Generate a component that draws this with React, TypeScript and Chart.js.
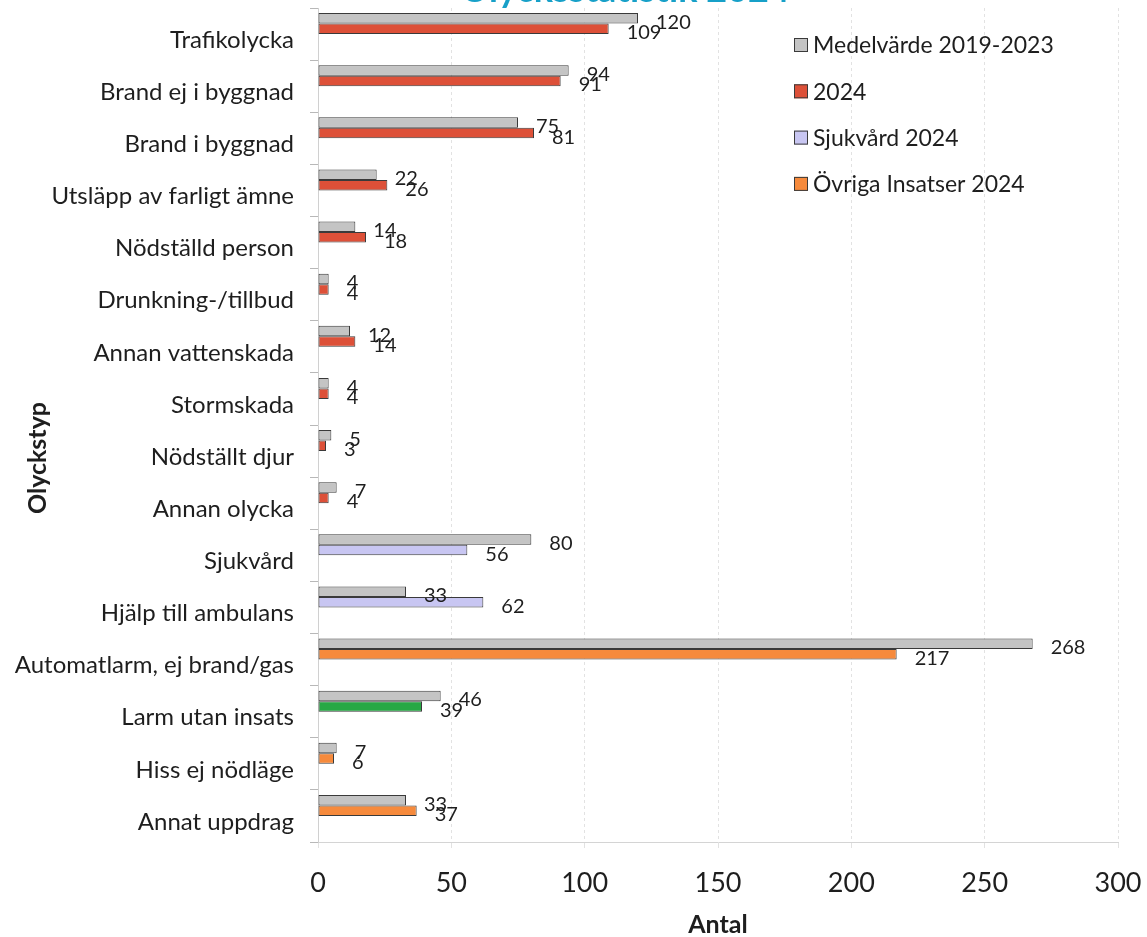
import React, { useEffect, useRef } from "react";
import { Chart, registerables } from "chart.js";

Chart.register(...registerables);

const titleText = "Olycksstatistik 2024";
const xTitle = "Antal";
const yTitle = "Olyckstyp";

const categories = [
  "Trafikolycka",
  "Brand ej i byggnad",
  "Brand i byggnad",
  "Utsläpp av farligt ämne",
  "Nödställd person",
  "Drunkning-/tillbud",
  "Annan vattenskada",
  "Stormskada",
  "Nödställt djur",
  "Annan olycka",
  "Sjukvård",
  "Hjälp till ambulans",
  "Automatlarm, ej brand/gas",
  "Larm utan insats",
  "Hiss ej nödläge",
  "Annat uppdrag",
];

const seriesNames = ["Medelvärde 2019-2023", "2024", "Sjukvård 2024", "Övriga Insatser 2024"];

const medel = [120, 94, 75, 22, 14, 4, 12, 4, 5, 7, 80, 33, 268, 46, 7, 33];
const r2024 = [109, 91, 81, 26, 18, 4, 14, 4, 3, 4, null, null, null, null, null, null];
const sjukvard = [null, null, null, null, null, null, null, null, null, null, 56, 62, null, null, null, null];
const ovriga = [null, null, null, null, null, null, null, null, null, null, null, null, 217, 39, 6, 37];
const greenIndex = 13; // "Larm utan insats" drawn green

const xTicks = [0, 50, 100, 150, 200, 250, 300];

const C_GREY = "#c4c4c4";
const C_RED = "#dd5038";
const C_LAV = "#c8c6f2";
const C_ORANGE = "#f68a3c";
const C_GREEN = "#27a845";
const seriesColors = [C_GREY, C_RED, C_LAV, C_ORANGE];

const FONT = "Lato, 'Open Sans', sans-serif";

export default function App() {
  const ref = useRef<HTMLCanvasElement | null>(null);

  useEffect(() => {
    if (!ref.current) return;
    Chart.defaults.font.family = FONT;

    const extras = {
      id: "extras",
      afterDraw(chart: any) {
        const ctx = chart.ctx;
        ctx.save();
        // data labels
        ctx.font = `20px ${FONT}`;
        ctx.fillStyle = "#1e1e1e";
        ctx.textAlign = "left";
        ctx.textBaseline = "middle";
        chart.data.datasets.forEach((ds: any, di: number) => {
          if (!ds.showLabels) return;
          const meta = chart.getDatasetMeta(di);
          ds.data.forEach((v: any, i: number) => {
            if (v === null || v === undefined) return;
            const el: any = meta.data[i];
            ctx.fillText(String(v), el.x + 18, el.y + 4);
          });
        });
        // clipped title
        ctx.font = `bold 36px ${FONT}`;
        ctx.fillStyle = "#17a0c8";
        ctx.textAlign = "center";
        ctx.textBaseline = "alphabetic";
        ctx.fillText(titleText, 625, 2);
        // y axis title
        ctx.save();
        ctx.translate(38, 458);
        ctx.rotate(-Math.PI / 2);
        ctx.font = `bold 25px ${FONT}`;
        ctx.fillStyle = "#1e1e1e";
        ctx.textAlign = "center";
        ctx.textBaseline = "middle";
        ctx.fillText(yTitle, 0, 0);
        ctx.restore();
        // legend
        ctx.font = `23px ${FONT}`;
        ctx.textAlign = "left";
        ctx.textBaseline = "middle";
        seriesNames.forEach((name, i) => {
          const cy = 45 + i * 46.3;
          ctx.fillStyle = seriesColors[i];
          ctx.fillRect(794, cy - 7, 14, 14);
          ctx.strokeStyle = "#3a3a3a";
          ctx.lineWidth = 1;
          ctx.strokeRect(794.5, cy - 6.5, 13, 13);
          ctx.fillStyle = "#1e1e1e";
          ctx.fillText(name, 813, cy + 1);
        });
        ctx.restore();
      },
    };

    const chart = new Chart(ref.current, {
      type: "bar",
      data: {
        labels: categories,
        datasets: [
          { label: seriesNames[0], data: medel, stack: "a", backgroundColor: C_GREY, showLabels: true } as any,
          { label: seriesNames[1], data: r2024, stack: "b", backgroundColor: C_RED, showLabels: true } as any,
          { label: seriesNames[2], data: sjukvard, stack: "b", backgroundColor: C_LAV, showLabels: true } as any,
          {
            label: seriesNames[3],
            data: ovriga,
            stack: "b",
            backgroundColor: (c: any) => (c.dataIndex === greenIndex ? C_GREEN : C_ORANGE),
            showLabels: true,
          } as any,
          { label: "", data: categories.map(() => null), stack: "c" } as any,
          { label: "", data: categories.map(() => null), stack: "d" } as any,
        ],
      },
      options: {
        indexAxis: "y",
        responsive: false,
        animation: false,
        layout: { padding: { left: 0, top: 8, right: 29, bottom: 0 } },
        datasets: {
          bar: {
            categoryPercentage: 0.806,
            barPercentage: 1,
            borderWidth: 1,
            borderColor: "#3a3a3a",
            borderSkipped: false,
          },
        },
        plugins: {
          legend: { display: false },
          tooltip: { enabled: false },
          title: { display: false },
        },
        scales: {
          x: {
            type: "linear",
            min: xTicks[0],
            max: xTicks[xTicks.length - 1],
            stacked: false,
            afterFit: (s: any) => {
              s.height = 95;
              s.paddingLeft = 0;
              s.paddingRight = 0;
            },
            afterBuildTicks: (s: any) => {
              s.ticks = xTicks.map((v) => ({ value: v }));
            },
            ticks: {
              font: { size: 27 },
              color: "#1e1e1e",
              padding: 19,
            },
            grid: {
              color: "#e2e2e2",
              tickLength: 6,
              tickColor: "#e2e2e2",
            },
            border: { display: true, color: "#d4d4d4", dash: [3, 3] },
            title: {
              display: true,
              text: xTitle,
              font: { size: 25, weight: "bold", lineHeight: 1 },
              color: "#1e1e1e",
              padding: { top: 0, bottom: 0 },
            },
          },
          y: {
            type: "category",
            afterFit: (s: any) => {
              s.width = 318;
              s.paddingTop = 0;
              s.paddingBottom = 0;
            },
            ticks: {
              font: { size: 24 },
              color: "#1e1e1e",
              padding: 16,
              labelOffset: 6,
              autoSkip: false,
            },
            grid: {
              drawOnChartArea: false,
              tickLength: 8,
              color: "#b8b8b8",
            },
            border: { display: true, color: "#d0d0d0" },
          },
        },
      },
      plugins: [extras],
    } as any);

    return () => chart.destroy();
  }, []);

  return (
    <div style={{ position: "absolute", left: 0, top: 0, width: 1147, height: 937, background: "#fff" }}>
      <canvas ref={ref} width={1147} height={937} style={{ display: "block" }} />
    </div>
  );
}
